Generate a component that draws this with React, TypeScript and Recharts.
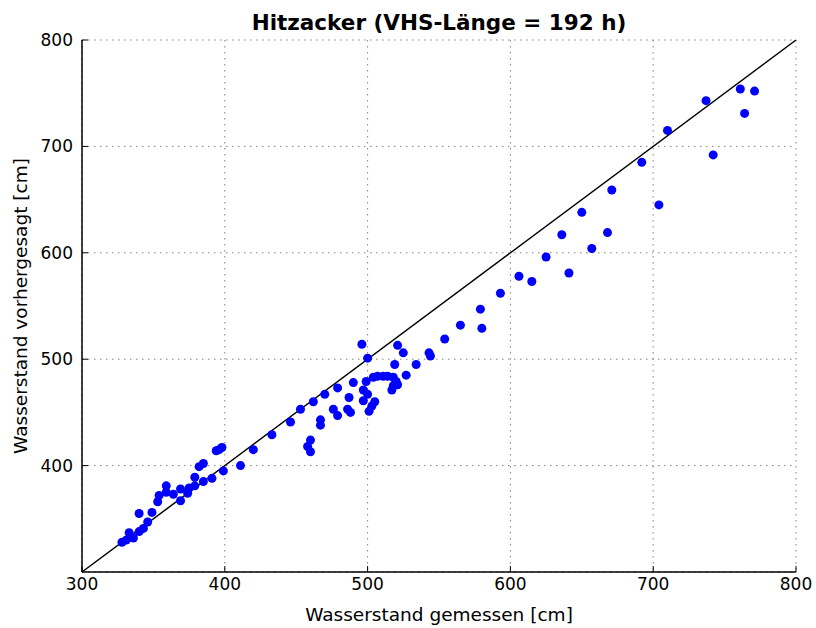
import { CartesianGrid, ReferenceLine, Scatter, ScatterChart, XAxis, YAxis } from 'recharts';

// Wasserstand gemessen [cm]
const measured = [
  328, 331, 333, 336, 340, 343, 340, 346, 349, 353, 354, 359, 359, 364, 369, 369,
  374, 375, 379, 379, 385, 382, 385, 391, 394, 396, 398, 399, 411, 420, 433, 446,
  453, 462, 470, 479, 490, 476, 479, 467, 467, 460, 458, 460, 487, 486, 488, 497,
  497, 500, 505, 503, 501, 499, 504, 507, 511, 514, 518, 520, 521, 518, 517, 519,
  534, 527, 496, 500, 521, 525,
  544, 543, 554, 565, 579, 580, 593, 606, 615, 625, 636, 641, 650, 657, 668, 671,
  692, 704, 710, 737, 742, 761, 764, 771,
];

// Wasserstand vorhergesagt [cm]
const predicted = [
  328, 330, 337, 332, 338, 341, 355, 347, 356, 366, 372, 381, 375, 373, 378, 367,
  374, 379, 381, 389, 385, 399, 402, 388, 414, 415, 417, 395, 400, 415, 429, 441,
  453, 460, 467, 473, 478, 453, 447, 443, 438, 424, 418, 413, 464, 453, 450, 471,
  461, 467, 460, 456, 451, 479, 483, 484, 484, 484, 483, 479, 476, 475, 471, 495,
  495, 485, 514, 501, 513, 506,
  503, 506, 519, 532, 547, 529, 562, 578, 573, 596, 617, 581, 638, 604, 619, 659,
  685, 645, 715, 743, 692, 754, 731, 752,
];

const xTicks = [300, 400, 500, 600, 700, 800];
const yTicks = [400, 500, 600, 700, 800];

const points = measured.map((m, i) => ({ measured: m, predicted: predicted[i] }));

const Dot = (props: any) => <circle cx={props.cx} cy={props.cy} r={4.5} fill="#0000ff" />;

export default function App() {
  return (
    <div
      style={{
        position: 'absolute',
        left: 0,
        top: 0,
        width: 816,
        height: 628,
        background: '#fff',
        fontFamily: '"DejaVu Sans", sans-serif',
      }}
    >
      <div
        style={{
          position: 'absolute',
          left: 82,
          top: 11.5,
          width: 714,
          lineHeight: '22px',
          textAlign: 'center',
          fontSize: 21.5,
          fontWeight: 'bold',
          color: '#000',
        }}
      >
        Hitzacker (VHS-Länge = 192 h)
      </div>
      <ScatterChart width={816} height={628} margin={{ top: 40, right: 20, bottom: 0, left: 0 }}>
        <CartesianGrid stroke="#808080" strokeDasharray="1.5 4.5" strokeWidth={1} />
        <XAxis
          type="number"
          dataKey="measured"
          domain={[300, 800]}
          ticks={xTicks}
          height={56}
          tickSize={-6}
          tickMargin={11.5}
          tick={{ fill: '#000', fontSize: 17 }}
          axisLine={{ stroke: '#000', strokeWidth: 1.5 }}
          tickLine={{ stroke: '#000', strokeWidth: 1 }}
          label={{ value: 'Wasserstand gemessen [cm]', position: 'insideBottom', offset: 7, fill: '#000', fontSize: 18.5 }}
        />
        <YAxis
          type="number"
          dataKey="predicted"
          domain={[300, 800]}
          ticks={yTicks}
          width={82}
          tickSize={-6}
          tickMargin={15}
          tick={{ fill: '#000', fontSize: 17 }}
          axisLine={{ stroke: '#000', strokeWidth: 1.5 }}
          tickLine={{ stroke: '#000', strokeWidth: 1 }}
          label={{
            value: 'Wasserstand vorhergesagt [cm]',
            angle: -90,
            position: 'insideLeft',
            offset: 20,
            fill: '#000',
            fontSize: 18.5,
            style: { textAnchor: 'middle' },
          }}
        />
        <XAxis
          xAxisId="top"
          orientation="top"
          type="number"
          domain={[300, 800]}
          ticks={xTicks}
          height={0}
          tick={false}
          tickSize={-6}
          axisLine={{ stroke: '#000', strokeWidth: 1.5 }}
          tickLine={{ stroke: '#000', strokeWidth: 1 }}
        />
        <YAxis
          yAxisId="right"
          orientation="right"
          type="number"
          domain={[300, 800]}
          ticks={yTicks}
          width={0}
          tick={false}
          tickSize={-6}
          axisLine={{ stroke: '#000', strokeWidth: 1.5 }}
          tickLine={{ stroke: '#000', strokeWidth: 1 }}
        />
        <ReferenceLine
          segment={[
            { x: 300, y: 300 },
            { x: 800, y: 800 },
          ]}
          stroke="#000"
          strokeWidth={1.5}
        />
        <Scatter data={points} shape={Dot} isAnimationActive={false} />
      </ScatterChart>
    </div>
  );
}
